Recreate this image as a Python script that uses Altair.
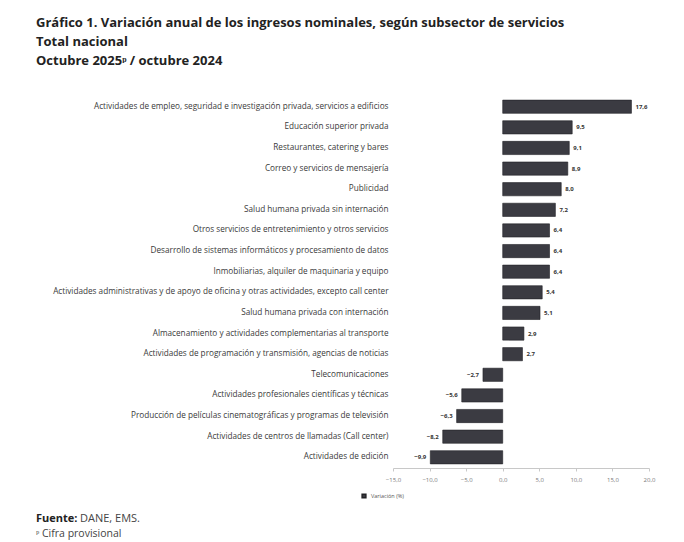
import altair as alt
import pandas as pd

categorias = [
    "Actividades de empleo, seguridad e investigación privada, servicios a edificios",
    "Educación superior privada",
    "Restaurantes, catering y bares",
    "Correo y servicios de mensajería",
    "Publicidad",
    "Salud humana privada sin internación",
    "Otros servicios de entretenimiento y otros servicios",
    "Desarrollo de sistemas informáticos y procesamiento de datos",
    "Inmobiliarias, alquiler de maquinaria y equipo",
    "Actividades administrativas y de apoyo de oficina y otras actividades, excepto call center",
    "Salud humana privada con internación",
    "Almacenamiento y actividades complementarias al transporte",
    "Actividades de programación y transmisión, agencias de noticias",
    "Telecomunicaciones",
    "Actividades profesionales científicas y técnicas",
    "Producción de películas cinematográficas y programas de televisión",
    "Actividades de centros de llamadas (Call center)",
    "Actividades de edición",
]
valores = [17.6, 9.5, 9.1, 8.9, 8.0, 7.2, 6.4, 6.4, 6.4, 5.4, 5.1, 2.9, 2.7,
           -2.7, -5.6, -6.3, -8.2, -9.9]
ticks_x = [-15, -10, -5, 0, 5, 10, 15, 20]
serie = "Variación (%)"
titulo = [
    "Gráfico 1. Variación anual de los ingresos nominales, según subsector de servicios",
    "Total nacional",
    "Octubre 2025ᵖ / octubre 2024",
]
fuente_bold = "Fuente:"
fuente_txt = "DANE, EMS."
nota = "ᵖ Cifra provisional"

df = pd.DataFrame({"cat": categorias, "val": valores, "serie": [serie] * len(valores)})

FONT = "Open Sans"
BAR = "#3b3b42"

y_enc = alt.Y(
    "cat:N", sort=categorias, title=None,
    scale=alt.Scale(paddingInner=0.36, paddingOuter=0.2),
    axis=alt.Axis(domain=False, ticks=False, labelFontSize=8.2, labelPadding=5,
                  labelColor="#3a3a3a", labelFont=FONT, labelLimit=420),
)
x_enc = alt.X(
    "val:Q", title=None,
    scale=alt.Scale(domain=[-15, 20], nice=False),
    axis=alt.Axis(values=ticks_x,
                  labelExpr="replace(format(datum.value, '.1f'), '.', ',')",
                  labelOverlap=False, labelFlush=False,
                  grid=False, domainColor="#c8c8c8", tickColor="#c8c8c8",
                  tickSize=3, labelFontSize=6, labelColor="#7a7a7a",
                  labelFont=FONT, labelPadding=5),
)

base = alt.Chart(df)

bars = base.mark_bar(stroke="#222226", strokeWidth=0.6).encode(
    x=x_enc, y=y_enc,
    color=alt.Color("serie:N", scale=alt.Scale(range=[BAR]),
                    legend=alt.Legend(title=None, orient="none", legendX=-32, legendY=397,
                                      symbolType="square", symbolSize=14,
                                      labelFontSize=5.5, labelColor="#555",
                                      labelFont=FONT)),
)

lbl_expr = "replace(format(datum.val, '.1f'), '.', ',')"
pos = base.transform_filter("datum.val >= 0").transform_calculate(lbl=lbl_expr).mark_text(
    align="left", baseline="middle", dx=4, fontSize=6, fontWeight="bold",
    color="#333", font=FONT).encode(x=x_enc, y=y_enc, text="lbl:N")
neg = base.transform_filter("datum.val < 0").transform_calculate(lbl=lbl_expr).mark_text(
    align="right", baseline="middle", dx=-4, fontSize=6, fontWeight="bold",
    color="#333", font=FONT).encode(x=x_enc, y=y_enc, text="lbl:N")

foot_df = pd.DataFrame({"a": [0]})
f1 = alt.Chart(foot_df).mark_text(align="left", baseline="middle", fontSize=11,
                                  fontWeight="bold", font=FONT, color="#222").encode(
    x=alt.value(-357), y=alt.value(423), text=alt.value(fuente_bold))
f2 = alt.Chart(foot_df).mark_text(align="left", baseline="middle", fontSize=11,
                                  font=FONT, color="#444").encode(
    x=alt.value(-313), y=alt.value(423), text=alt.value(fuente_txt))
f3 = alt.Chart(foot_df).mark_text(align="left", baseline="middle", fontSize=10.5,
                                  font=FONT, color="#444").encode(
    x=alt.value(-357), y=alt.value(438), text=alt.value(nota))

chart = alt.layer(bars, pos, neg, f1, f2, f3).properties(
    width=256, height=372,
    autosize=alt.AutoSizeParams(type="none"),
    padding={"left": 385, "top": 88, "right": 27, "bottom": 74},
    title=alt.TitleParams(text=titulo, anchor="start", frame="group", dx=-357,
                          fontSize=13, font=FONT, fontWeight="bold", color="#222",
                          lineHeight=19, offset=28),
).configure_view(stroke=None).configure_axis(labelOverlap=False)

chart.save("out.html", embed_options={"renderer": "svg", "actions": False})
